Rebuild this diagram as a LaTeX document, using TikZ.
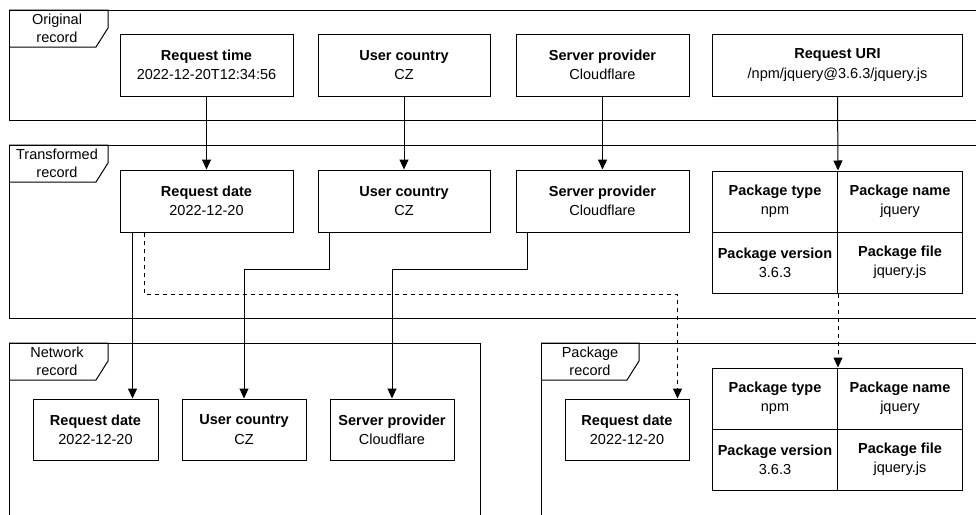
\documentclass[tikz,border=0pt]{standalone}
\usepackage{fontspec}
\setmainfont{Liberation Sans}
\usetikzlibrary{arrows.meta,calc}
\tikzset{
 box/.style={draw, fill=white, line width=1pt, align=center, inner sep=0pt, minimum height=62pt, font=\fontsize{14.5}{19.3}\selectfont},
 cell/.style={box, minimum width=125pt, minimum height=61pt},
 frame/.style={draw, line width=1pt},
 tablabel/.style={align=center, font=\fontsize{14.5}{18.5}\selectfont, inner sep=0pt},
 conn/.style={line width=1pt, -{Triangle[width=9pt,length=10pt]}},
 dconn/.style={conn, dash pattern=on 4pt off 4pt},
}
\newcommand{\frametab}[3]{%
 \draw[frame] (9,#1) -- (108,#1) -- (108,#1+18) -- (96,#1+37) -- (9,#1+37);
 \node[tablabel] (#2) at (57,#1+18.5) {#3};
}
\begin{document}
\begin{tikzpicture}[x=1pt,y=-1pt]
\useasboundingbox (0,0) rectangle (976,514);
\clip (0,0) rectangle (976,514);
% frames
\draw[frame] (9,10) rectangle (1000,120);
\frametab{10}{lorig}{Original\\record}
\draw[frame] (9,145) rectangle (1000,318);
\frametab{145}{ltrans}{Transformed\\record}
\draw[frame] (9,343) rectangle (480,600);
\frametab{343}{lnet}{Network\\record}
\draw[frame] (541,343) rectangle (1000,600);
\draw[frame] (541,343) -- (639,343) -- (639,361) -- (627,380) -- (541,380);
\node[tablabel] (lpkg) at (590,361.5) {Package\\record};
% original
\node[box, minimum width=173pt] (rt) at (206.5,65) {\textbf{Request time}\\2022-12-20T12:34:56};
\node[box, minimum width=172pt] (ouc) at (404,65) {\textbf{User country}\\CZ};
\node[box, minimum width=173pt] (osp) at (602.5,65) {\textbf{Server provider}\\Cloudflare};
\node[box, minimum width=250pt] (uri) at (837.5,65) {\textbf{Request URI}\\/npm/jquery@3.6.3/jquery.js};
% transformed
\node[box, minimum width=173pt] (rd) at (206.5,201) {\textbf{Request date}\\2022-12-20};
\node[box, minimum width=172pt] (tuc) at (404,201) {\textbf{User country}\\CZ};
\node[box, minimum width=173pt] (tsp) at (602.5,201) {\textbf{Server provider}\\Cloudflare};
\node[cell] (t11) at (775,201.5) {\textbf{Package type}\\npm};
\node[cell] (t12) at (900,201.5) {\textbf{Package name}\\jquery};
\node[cell] (t21) at (775,262.5) {\textbf{Package version}\\3.6.3};
\node[cell] (t22) at (900,262.5) {\textbf{Package file}\\jquery.js};
% network
\node[box, minimum width=125pt, minimum height=61pt] (nrd) at (95.5,429.5) {\textbf{Request date}\\2022-12-20};
\node[box, minimum width=124pt, minimum height=61pt] (nuc) at (244,429.5) {\textbf{User country}\\CZ};
\node[box, minimum width=124pt, minimum height=61pt] (nsp) at (392,429.5) {\textbf{Server provider}\\Cloudflare};
% package
\node[box, minimum width=124pt, minimum height=61pt] (prd) at (627,429.5) {\textbf{Request date}\\2022-12-20};
\node[cell] (p11) at (775,398.5) {\textbf{Package type}\\npm};
\node[cell] (p12) at (900,398.5) {\textbf{Package name}\\jquery};
\node[cell] (p21) at (775,459.5) {\textbf{Package version}\\3.6.3};
\node[cell] (p22) at (900,459.5) {\textbf{Package file}\\jquery.js};
% connectors
\draw[conn] (rt.south) -- (rd.north);
\draw[conn] (ouc.south) -- (tuc.north);
\draw[conn] (osp.south) -- (tsp.north);
\draw[conn] (uri.south) -- (t11.north east);
\draw[conn] ([xshift=13pt]rd.south west) -- ([xshift=13pt]rd.south west |- nrd.north);
\draw[conn] ([xshift=12pt]tuc.south west) -- ++(0,37) -| (nuc.north);
\draw[conn] ([xshift=12pt]tsp.south west) -- ++(0,37) -| (nsp.north);
\draw[dconn] ([xshift=25pt]rd.south west) -- ++(0,62) -| ([xshift=-12pt]prd.north east);
\draw[dconn] (t21.south east) -- (p11.north east);
\end{tikzpicture}
\end{document}
